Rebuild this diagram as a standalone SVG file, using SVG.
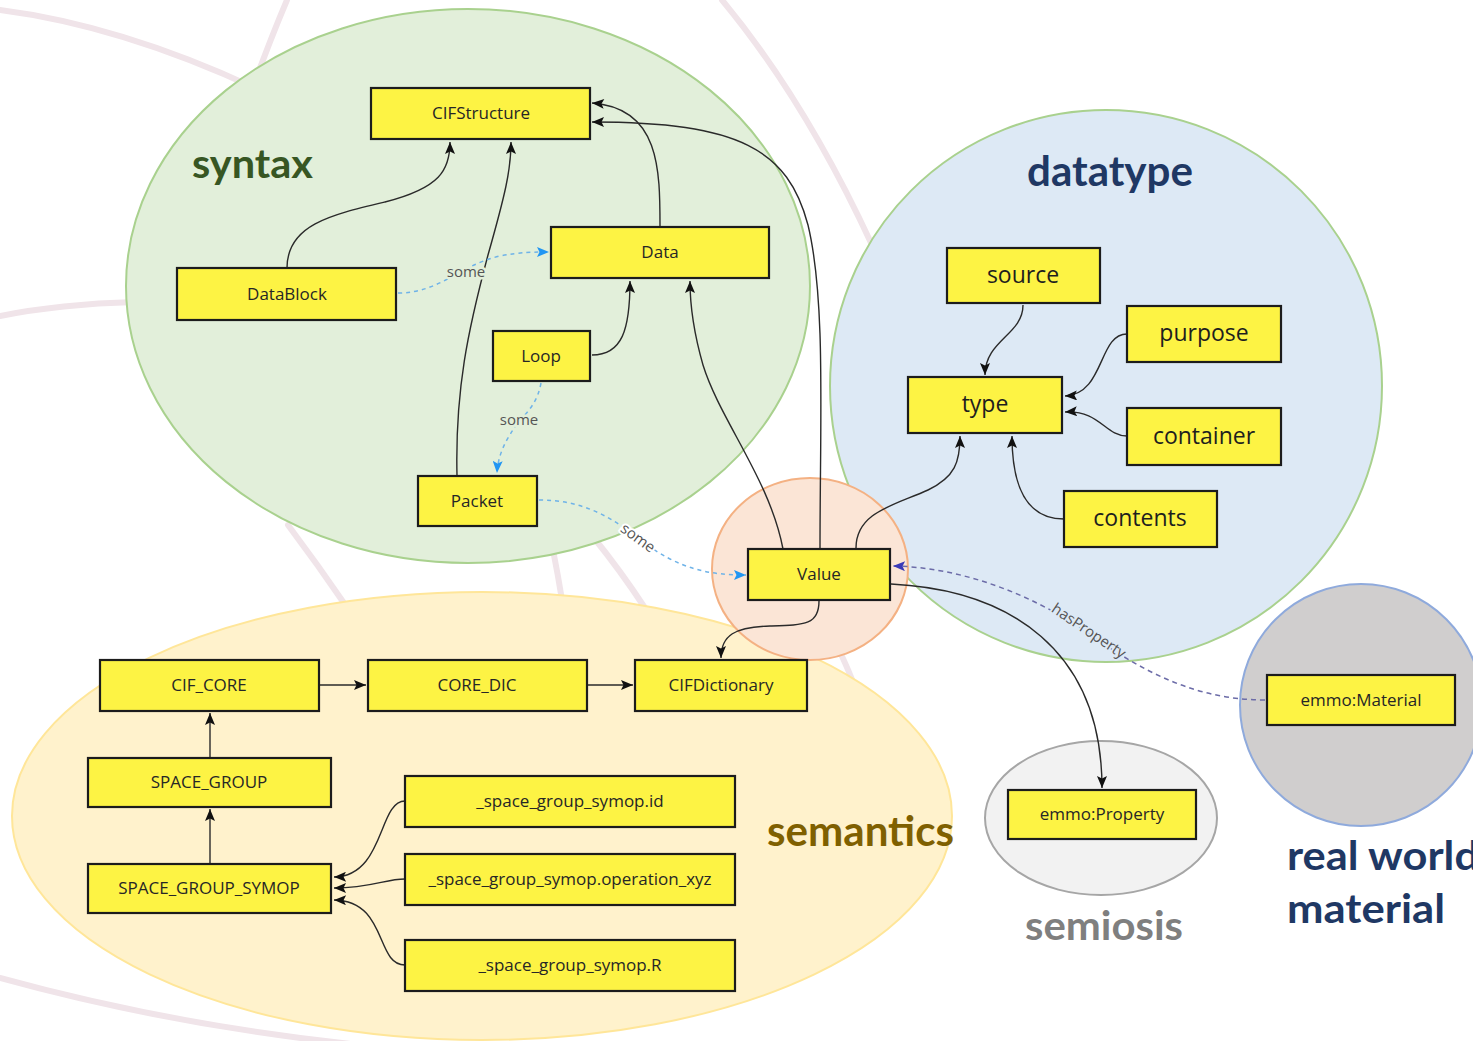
<svg xmlns="http://www.w3.org/2000/svg" width="1473" height="1041" viewBox="0 0 1473 1041">
<defs>
<style>
.bg{fill:none;stroke:#f0e4e9;stroke-width:6;stroke-linecap:round}
.box{fill:#fdf344;stroke:#1c1c1c;stroke-width:2.2}
.t{font-family:"Open Sans","DejaVu Sans",sans-serif;font-size:17px;fill:#262626;text-anchor:middle}
.tl{font-family:"Open Sans","DejaVu Sans",sans-serif;font-size:23px;fill:#1e1e1e;text-anchor:middle}
.ttl{font-family:Lato,"Open Sans",sans-serif;font-weight:700}
.c{fill:none;stroke:#2a2a2a;stroke-width:1.4}
.d{fill:none;stroke:#6fb3e8;stroke-width:1.5;stroke-dasharray:4 4}
.p{fill:none;stroke:#6c6ca8;stroke-width:1.5;stroke-dasharray:5 4}
.lbl{font-family:"Open Sans","DejaVu Sans",sans-serif;font-size:15px;fill:#555;text-anchor:middle}
</style>
<marker id="ah" viewBox="0 0 12 10" refX="12" refY="5" markerWidth="13" markerHeight="10" markerUnits="userSpaceOnUse" orient="auto"><path d="M0,0 L12,5 L0,10 L2.5,5 z" fill="#111"/></marker>
<marker id="ab" viewBox="0 0 12 10" refX="12" refY="5" markerWidth="13" markerHeight="10" markerUnits="userSpaceOnUse" orient="auto"><path d="M0,0 L12,5 L0,10 L2.5,5 z" fill="#2196f3"/></marker>
<marker id="ap" viewBox="0 0 12 10" refX="12" refY="5" markerWidth="13" markerHeight="10" markerUnits="userSpaceOnUse" orient="auto"><path d="M0,0 L12,5 L0,10 L2.5,5 z" fill="#3a3ab8"/></marker>
</defs>
<rect width="1473" height="1041" fill="#ffffff"/>
<g id="background-arcs">
<path class="bg" d="M0,10 Q140,28 300,110"/>
<path class="bg" d="M287,0 Q270,40 250,95"/>
<path class="bg" d="M0,316 Q60,304 135,302"/>
<path class="bg" d="M722,0 Q805,100 872,245"/>
<path class="bg" d="M288,525 Q318,565 346,606"/>
<path class="bg" d="M553,550 Q558,575 562,600"/>
<path class="bg" d="M594,538 Q620,570 645,608"/>
<path class="bg" d="M838,648 Q848,668 858,695"/>
<path class="bg" d="M0,978 Q170,1025 360,1045"/>
</g>
<g id="regions">
<ellipse id="region-syntax" cx="468" cy="286" rx="342" ry="277" fill="#e2efda" stroke="#a9d18e" stroke-width="2"/>
<ellipse id="region-datatype" cx="1106" cy="386" rx="276" ry="276" fill="#dde9f5" stroke="#a9d18e" stroke-width="2"/>
<ellipse id="region-semantics" cx="482" cy="816" rx="470" ry="224" fill="#fff2cc" stroke="#ffe699" stroke-width="2"/>
<ellipse id="region-semiosis" cx="1101" cy="818" rx="116" ry="77" fill="#f2f2f2" stroke="#a6a6a6" stroke-width="2"/>
<ellipse id="region-real" cx="1361" cy="705" rx="121" ry="121" fill="#d0cece" stroke="#8faadc" stroke-width="2"/>
<ellipse id="region-value" cx="810" cy="569" rx="98" ry="91" fill="#fbe5d6" stroke="#f4b183" stroke-width="2"/>
</g>
<g id="region-titles">
<text class="ttl" x="192" y="178" font-size="40" fill="#375623" textLength="121" lengthAdjust="spacingAndGlyphs">syntax</text>
<text class="ttl" x="1027" y="186" font-size="42" fill="#1f3864" textLength="166" lengthAdjust="spacingAndGlyphs">datatype</text>
<text class="ttl" x="767" y="846" font-size="42" fill="#7f6000" textLength="187" lengthAdjust="spacingAndGlyphs">semantics</text>
<text class="ttl" x="1025" y="940" font-size="40" fill="#7f7f7f" textLength="158" lengthAdjust="spacingAndGlyphs">semiosis</text>
<text class="ttl" x="1287" y="870" font-size="40" fill="#1f3864" textLength="192" lengthAdjust="spacingAndGlyphs">real world</text>
<text class="ttl" x="1287" y="923" font-size="40" fill="#1f3864" textLength="158" lengthAdjust="spacingAndGlyphs">material</text>
</g>
<g id="connectors">
<path class="c" marker-end="url(#ah)" d="M287,268 C287,225 330,215 385,202 C440,188 450,170 450,142"/>
<path class="c" marker-end="url(#ah)" d="M457,476 C455,390 468,330 488,255 C505,195 511,170 511,142"/>
<path class="c" marker-end="url(#ah)" d="M660,227 C660,170 660,108 592,103"/>
<path class="c" marker-end="url(#ah)" d="M820,549 C820,420 826,300 808,225 C788,150 740,122 592,122"/>
<path class="c" marker-end="url(#ah)" d="M783,549 C770,480 720,420 703,365 C693,330 690,305 690,281"/>
<path class="c" marker-end="url(#ah)" d="M592,355 C622,355 630,330 630,281"/>
<path class="c" marker-end="url(#ah)" d="M856,548 C856,512 895,505 928,490 C955,477 960,462 960,436"/>
<path class="c" marker-end="url(#ah)" d="M1023,305 C1023,335 985,340 985,375"/>
<path class="c" marker-end="url(#ah)" d="M1127,334 C1098,334 1105,394 1065,396"/>
<path class="c" marker-end="url(#ah)" d="M1127,436 C1105,436 1100,410 1065,412"/>
<path class="c" marker-end="url(#ah)" d="M1064,519 C1028,519 1012,490 1012,436"/>
<path class="c" marker-end="url(#ah)" d="M819,601 C819,625 805,625 770,626 C735,627 721,635 721,658"/>
<path class="c" marker-end="url(#ah)" d="M891,584 C1010,590 1102,650 1102,788"/>
<path class="c" marker-end="url(#ah)" d="M320,685 L366,685"/>
<path class="c" marker-end="url(#ah)" d="M588,685 L633,685"/>
<path class="c" marker-end="url(#ah)" d="M210,758 L210,713"/>
<path class="c" marker-end="url(#ah)" d="M210,864 L210,809"/>
<path class="c" marker-end="url(#ah)" d="M405,801 C378,801 385,876 334,877"/>
<path class="c" marker-end="url(#ah)" d="M405,879 C385,879 372,888 334,888"/>
<path class="c" marker-end="url(#ah)" d="M405,965 C375,965 388,901 334,900"/>
<path class="d" marker-end="url(#ab)" d="M398,293 C440,293 460,265 500,256 C520,252 535,252 549,252"/>
<path class="d" marker-end="url(#ab)" d="M541,383 C538,400 530,410 520,420 C505,440 498,455 497,473"/>
<path class="d" marker-end="url(#ab)" d="M539,500 C580,500 610,515 640,540 C680,570 710,575 746,575"/>
<path class="p" marker-end="url(#ap)" d="M1265,700 C1185,700 1130,662 1080,628 C1030,594 960,567 893,566"/>
<text class="lbl" x="466" y="277" stroke="#e2efda" stroke-width="5" paint-order="stroke">some</text>
<text class="lbl" x="519" y="425" stroke="#e2efda" stroke-width="5" paint-order="stroke">some</text>
<text class="lbl" transform="translate(635,542) rotate(36)" x="0" y="0" stroke="#ffffff" stroke-width="4" paint-order="stroke">some</text>
<text class="lbl" transform="translate(1086,635) rotate(34)" x="0" y="0" fill="#6b6bb0" stroke="#dde9f5" stroke-width="4" paint-order="stroke">hasProperty</text>
</g>
<g id="node-CIFStructure"><rect class="box" x="371" y="88" width="219" height="51"/><text class="t" x="481" y="119">CIFStructure</text></g>
<g id="node-DataBlock"><rect class="box" x="177" y="268" width="219" height="52"/><text class="t" x="287" y="300">DataBlock</text></g>
<g id="node-Data"><rect class="box" x="551" y="227" width="218" height="51"/><text class="t" x="660" y="258">Data</text></g>
<g id="node-Loop"><rect class="box" x="493" y="331" width="97" height="50"/><text class="t" x="541" y="362">Loop</text></g>
<g id="node-Packet"><rect class="box" x="418" y="476" width="119" height="50"/><text class="t" x="477" y="507">Packet</text></g>
<g id="node-Value"><rect class="box" x="748" y="549" width="142" height="51"/><text class="t" x="819" y="580">Value</text></g>
<g id="node-source"><rect class="box" x="947" y="248" width="153" height="55"/><text class="tl" x="1023" y="283">source</text></g>
<g id="node-purpose"><rect class="box" x="1127" y="306" width="154" height="56"/><text class="tl" x="1204" y="341">purpose</text></g>
<g id="node-type"><rect class="box" x="908" y="377" width="154" height="56"/><text class="tl" x="985" y="412">type</text></g>
<g id="node-container"><rect class="box" x="1127" y="408" width="154" height="57"/><text class="tl" x="1204" y="444">container</text></g>
<g id="node-contents"><rect class="box" x="1064" y="491" width="153" height="56"/><text class="tl" x="1140" y="526">contents</text></g>
<g id="node-CIF_CORE"><rect class="box" x="100" y="660" width="219" height="51"/><text class="t" x="209" y="691">CIF_CORE</text></g>
<g id="node-CORE_DIC"><rect class="box" x="368" y="660" width="219" height="51"/><text class="t" x="477" y="691">CORE_DIC</text></g>
<g id="node-CIFDictionary"><rect class="box" x="635" y="660" width="172" height="51"/><text class="t" x="721" y="691">CIFDictionary</text></g>
<g id="node-SPACE_GROUP"><rect class="box" x="88" y="758" width="243" height="49"/><text class="t" x="209" y="788">SPACE_GROUP</text></g>
<g id="node-SPACE_GROUP_SYMOP"><rect class="box" x="88" y="864" width="243" height="49"/><text class="t" x="209" y="894">SPACE_GROUP_SYMOP</text></g>
<g id="node-symop-id"><rect class="box" x="405" y="776" width="330" height="51"/><text class="t" x="570" y="807">_space_group_symop.id</text></g>
<g id="node-symop-operation"><rect class="box" x="405" y="854" width="330" height="51"/><text class="t" x="570" y="885">_space_group_symop.operation_xyz</text></g>
<g id="node-symop-R"><rect class="box" x="405" y="940" width="330" height="51"/><text class="t" x="570" y="971">_space_group_symop.R</text></g>
<g id="node-emmo-Property"><rect class="box" x="1008" y="790" width="188" height="49"/><text class="t" x="1102" y="820">emmo:Property</text></g>
<g id="node-emmo-Material"><rect class="box" x="1267" y="675" width="188" height="50"/><text class="t" x="1361" y="706">emmo:Material</text></g>
</svg>
